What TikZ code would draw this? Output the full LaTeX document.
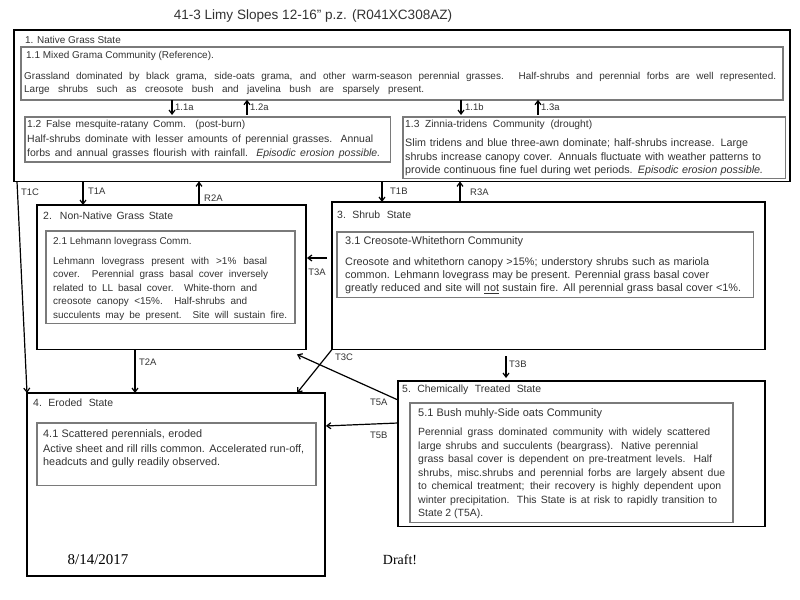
\documentclass[tikz,border=0pt]{standalone}
\usepackage{fontspec}
\setmainfont{Liberation Sans}
\newfontfamily\datefont{Liberation Serif}
\usetikzlibrary{arrows.meta,calc}
\definecolor{txt}{HTML}{333333}
\definecolor{innerc}{HTML}{7A7A7A}
\newcommand\fitline[2]{\makebox[#1bp][s]{#2}}
\begin{document}
\begin{tikzpicture}[x=1bp,y=-1bp,
  statebox/.style={draw=black, line width=1.8bp, inner sep=0, outer sep=0, anchor=north west},
  combox/.style={draw=innerc, line width=1.4bp, inner sep=0, outer sep=0, anchor=north west},
  lbl/.style={font=\fontsize{#1}{13.5}\selectfont, text=txt, inner sep=0, anchor=west},
  lbl/.default=10,
  para/.style={font=\fontsize{#1}{13.5}\selectfont, text=txt, inner sep=0, anchor=north west, align=left},
  para/.default=10,
  arr/.style={line width=1.2bp, -{Straight Barb[length=4bp,width=6bp]}},
  tlbl/.style={font=\fontsize{9.5}{11}\selectfont, text=txt, inner sep=0, anchor=west}
]
\fill[white] (0,0) rectangle (800,600);
\useasboundingbox (0,0) rectangle (800,600);

% title
\node[font=\fontsize{13.6}{15}\selectfont, text=txt, inner sep=0] (title) at (313,16) {41-3 Limy Slopes 12-16" p.z. (R041XC308AZ)};

% state boxes
\node[statebox, minimum width=779, minimum height=152] (s1) at (14,30) {};
\node[statebox, minimum width=270, minimum height=145] (s2) at (37,205) {};
\node[statebox, minimum width=435, minimum height=148] (s3) at (332,202) {};
\node[statebox, minimum width=299, minimum height=184] (s4) at (27,393) {};
\node[statebox, minimum width=368, minimum height=146] (s5) at (398,381) {};

% community boxes
\node[combox, minimum width=765, minimum height=53] (c11) at (21,47) {};
\node[combox, minimum width=367, minimum height=45] (c12) at (25,117) {};
\node[combox, minimum width=384, minimum height=62] (c13) at (403,117) {};
\node[combox, minimum width=250, minimum height=93] (c21) at (46,231) {};
\node[combox, minimum width=418, minimum height=66] (c31) at (337,232) {};
\node[combox, minimum width=280, minimum height=63] (c41) at (37,423) {};
\node[combox, minimum width=324, minimum height=120] (c51) at (410,403) {};

% state labels
\node[lbl=10] (s1l) at (25,40) {1. Native Grass State};
\node[lbl=10.5] (s2l) at (43,216) {\fitline{130}{2. Non-Native Grass State}};
\node[lbl=10.5] (s3l) at (337,215) {\fitline{74}{3.\ Shrub State}};
\node[lbl=10.5] (s4l) at (33,403) {\fitline{80}{4.\ Eroded State}};
\node[lbl=10.5] (s5l) at (402,390) {\fitline{139}{5.\ Chemically Treated State}};

% community texts
\node[lbl=10] (c11l) at (26,56) {1.1 Mixed Grama Community (Reference).};
\node[para=10] (c11p) at (24,72) {\fitline{752}{Grassland dominated by black grama, side-oats grama, and other warm-season perennial grasses. Half-shrubs and perennial forbs are well represented.}\\
\fitline{400}{Large shrubs such as creosote bush and javelina bush are sparsely present.}};

\node[lbl=10.2] (c12l) at (27,125) {\fitline{218}{1.2 False mesquite-ratany Comm. (post-burn)}};
\node[para=10.5] (c12p) at (27,135) {\fitline{346}{Half-shrubs dominate with lesser amounts of perennial grasses. Annual}\\
\fitline{353}{forbs and annual grasses flourish with rainfall. \textit{Episodic erosion possible.}}};

\node[lbl=10.3] (c13l) at (405,125) {\fitline{187}{1.3 Zinnia-tridens Community (drought)}};
\node[para=10.8] (c13p) at (405,139) {\fitline{343}{Slim tridens and blue three-awn dominate; half-shrubs increase. Large}\\
\fitline{356}{shrubs increase canopy cover. Annuals fluctuate with weather patterns to}\\
\fitline{358}{provide continuous fine fuel during wet periods. \textit{Episodic erosion possible.}}};

\node[lbl=10] (c21l) at (53,242) {2.1 Lehmann lovegrass Comm.};
\node[para=10] (c21p) at (53,257) {\fitline{214}{Lehmann lovegrass present with >1\% basal}\\
\fitline{215}{cover. Perennial grass basal cover inversely}\\
\fitline{204}{related to LL basal cover. White-thorn and}\\
\fitline{194}{creosote canopy <15\%. Half-shrubs and}\\
\fitline{234}{succulents may be present. Site will sustain fire.}};

\node[lbl=11] (c31l) at (345,242) {\fitline{178}{3.1 Creosote-Whitethorn Community}};
\node[para=10.9] (c31p) at (345,257) {\fitline{364}{Creosote and whitethorn canopy >15\%; understory shrubs such as mariola}\\
\fitline{364}{common. Lehmann lovegrass may be present. Perennial grass basal cover}\\
\fitline{396}{greatly reduced and site will \underline{not} sustain fire. All perennial grass basal cover <1\%.}};

\node[lbl=10.9] (c41l) at (43,435) {\fitline{159}{4.1 Scattered perennials, eroded}};
\node[para=10.9] (c41p) at (43,444) {\fitline{261}{Active sheet and rill rills common. Accelerated run-off,}\\
\fitline{177}{headcuts and gully readily observed.}};

\node[lbl=11] (c51l) at (418,414) {\fitline{184}{5.1 Bush muhly-Side oats Community}};
\node[para=10.5] (c51p) at (418,428) {\fitline{292}{Perennial grass dominated community with widely scattered}\\
\fitline{280}{large shrubs and succulents (beargrass). Native perennial}\\
\fitline{294}{grass basal cover is dependent on pre-treatment levels. Half}\\
\fitline{307}{shrubs, misc.shrubs and perennial forbs are largely absent due}\\
\fitline{303}{to chemical treatment; their recovery is highly dependent upon}\\
\fitline{299}{winter precipitation. This State is at risk to rapidly transition to}\\
\fitline{65}{State 2 (T5A).}};

% community transitions
\draw[arr, shorten >=2bp] (172,0 |- c11.south) -- (172,0 |- c12.north);
\node[tlbl] (l11a) at (175,107) {1.1a};
\draw[arr, shorten <=2bp] (247,0 |- c12.north) -- (247,0 |- c11.south);
\node[tlbl] (l12a) at (250,107) {1.2a};
\draw[arr, shorten >=2bp] (461,0 |- c11.south) -- (461,0 |- c13.north);
\node[tlbl] (l11b) at (465,107) {1.1b};
\draw[arr, shorten <=2bp] (538,0 |- c13.north) -- (538,0 |- c11.south);
\node[tlbl] (l13a) at (541,107) {1.3a};

% state transitions
\draw[arr] (83,0 |- s1.south) -- (83,0 |- s2.north);
\node[tlbl] (lt1a) at (88,191) {T1A};
\draw[arr] (199,0 |- s2.north) -- (199,0 |- s1.south);
\node[tlbl] (lr2a) at (204,198) {R2A};
\draw[arr] (382,0 |- s1.south) -- (382,0 |- s3.north);
\node[tlbl] (lt1b) at (390,191) {T1B};
\draw[arr] (460,0 |- s3.north) -- (460,0 |- s1.south);
\node[tlbl] (lr3a) at (470,192) {R3A};
\draw[arr] (17,0 |- s1.south) -- (27,0 |- s4.north);
\node[tlbl] (lt1c) at (21,192) {T1C};
\draw[arr] (135,0 |- s2.south) -- (135,0 |- s4.north);
\node[tlbl] (lt2a) at (139,362) {T2A};
\draw[arr, shorten <=5bp, shorten >=1bp] (s3.west |- 0,258) -- (s2.east |- 0,258);
\node[tlbl, anchor=center] (lt3a) at (317,272) {T3A};
\draw[arr, shorten <=7bp, shorten >=3bp] (506,0 |- s3.south) -- (506,0 |- s5.north);
\node[tlbl] (lt3b) at (509,364) {T3B};
\draw[arr] (s3.south west) -- (297,0 |- s4.north);
\node[tlbl] (lt3c) at (335,357) {T3C};
\draw[arr] (s5.west |- 0,400) -- ($(s2.south east)+(-9,5)$);
\node[tlbl] (lt5a) at (370,402) {T5A};
\draw[arr, shorten >=1bp] (s5.west |- 0,423) -- (s4.east |- 0,426);
\node[tlbl] (lt5b) at (370,435) {T5B};

% footer
\node[font=\datefont\fontsize{15}{17}\selectfont, inner sep=0] (date) at (98,560) {8/14/2017};
\node[font=\datefont\fontsize{14}{16}\selectfont, inner sep=0] (draft) at (400,560) {Draft!};
\end{tikzpicture}
\end{document}
